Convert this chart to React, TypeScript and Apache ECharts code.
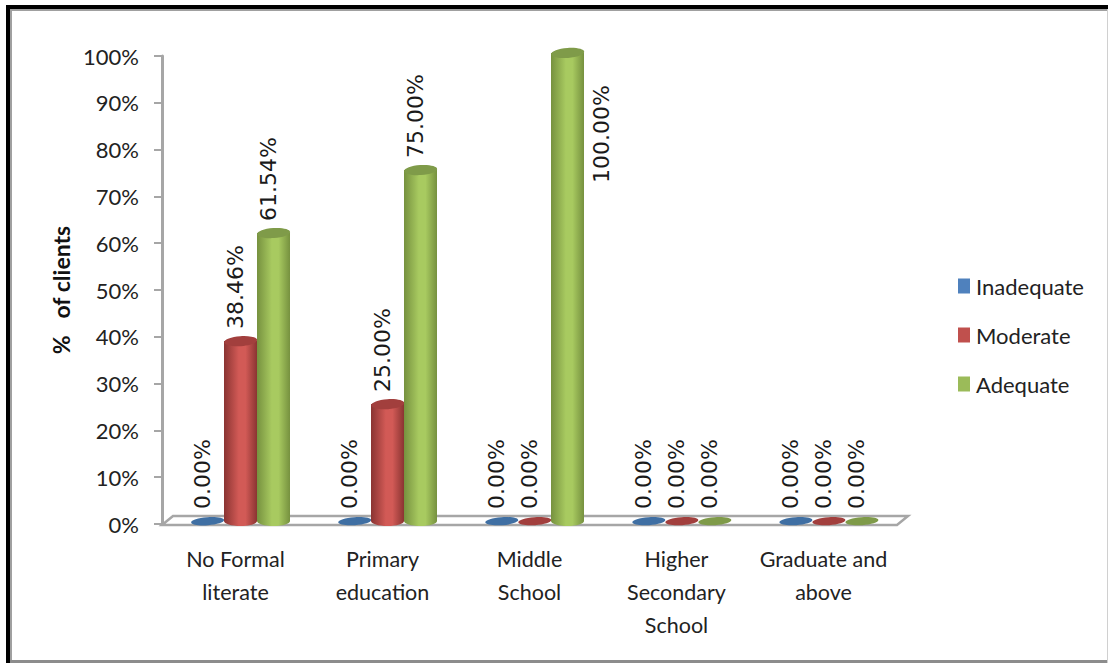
import React, { useEffect, useRef } from "react";
import * as echarts from "echarts";

const categories = [
  "No Formal\nliterate",
  "Primary\neducation",
  "Middle\nSchool",
  "Higher\nSecondary\nSchool",
  "Graduate and\nabove",
];
const inadequate = [0, 0, 0, 0, 0];
const moderate = [38.46, 25, 0, 0, 0];
const adequate = [61.54, 75, 100, 0, 0];

const palettes = [
  { name: "Inadequate", base: "#4f81bd", edge: "#385d8a", mid: "#5b8fd0", cap: "#3f6fa3", values: inadequate },
  { name: "Moderate", base: "#c0504d", edge: "#8a3432", mid: "#d25a56", cap: "#a23f3d", values: moderate },
  { name: "Adequate", base: "#9bbb59", edge: "#76913f", mid: "#a8ca60", cap: "#7f9b49", values: adequate },
];

const BAR_W = 33;
const CAP_H = 10;
const SANS = "Lato, sans-serif";

// One cylinder per datum: body with a rounded foot, tilted cap, rotated value label.
function cylinder(p: (typeof palettes)[number], seriesIndex: number) {
  return (params: any, api: any) => {
    const cat = api.value(0);
    const v = api.value(1);
    const [cx0, yV] = api.coord([cat, v]);
    const [, y0] = api.coord([cat, 0]);
    const cx = cx0 + (seriesIndex - 1) * BAR_W + 5;
    const top = yV - 3;
    const bottom = y0 - 3;
    const children: any[] = [];
    if (v > 0) {
      const fill = {
        type: "linear", x: 0, y: 0, x2: 1, y2: 0,
        colorStops: [
          { offset: 0, color: p.edge },
          { offset: 0.45, color: p.mid },
          { offset: 0.65, color: p.mid },
          { offset: 1, color: p.edge },
        ],
      };
      children.push({
        type: "ellipse",
        shape: { cx, cy: bottom, rx: BAR_W / 2, ry: CAP_H / 2 },
        style: { fill },
      });
      children.push({
        type: "rect",
        shape: { x: cx - BAR_W / 2, y: top, width: BAR_W, height: bottom - top },
        style: { fill },
      });
    }
    children.push({
      type: "ellipse",
      shape: { cx, cy: top, rx: BAR_W / 2, ry: v > 0 ? CAP_H / 2 : 4 },
      originX: cx,
      originY: top,
      rotation: 0.07,
      style: { fill: p.cap },
    });
    // The full-height bar has no headroom, so its label sits beside it.
    const tall = v >= 100;
    children.push({
      type: "text",
      x: tall ? cx + 34 : cx - 5,
      y: tall ? yV + 127 : yV - 15,
      rotation: Math.PI / 2,
      style: {
        text: v.toFixed(2) + "%",
        fontFamily: "'DejaVu Sans', sans-serif",
        fontSize: 22,
        fill: "#1a1a1a",
        align: "left",
        verticalAlign: "middle",
      },
    });
    return { type: "group", children };
  };
}

const GRAY = "#a6a6a6";

export default function App() {
  const ref = useRef<HTMLDivElement>(null);
  useEffect(() => {
    const chart = echarts.init(ref.current!, undefined, { renderer: "svg" });
    chart.setOption({
      animation: false,
      backgroundColor: "#ffffff",
      grid: { left: 162, top: 56, width: 735, height: 468, containLabel: false },
      legend: {
        orient: "vertical",
        left: 953,
        top: 270,
        itemWidth: 12,
        itemHeight: 15,
        itemGap: 27,
        icon: "rect",
        selectedMode: false,
        textStyle: { fontFamily: SANS, fontSize: 22, color: "#222222", padding: [0, 0, 0, 1] },
        data: palettes.map((p) => ({ name: p.name, itemStyle: { color: p.base } })),
      },
      xAxis: {
        type: "category",
        data: categories,
        axisLine: { show: false },
        axisTick: { show: false },
        axisLabel: {
          interval: 0,
          fontFamily: SANS,
          fontSize: 21.5,
          lineHeight: 33,
          color: "#222222",
          margin: 18,
        },
      },
      yAxis: {
        type: "value",
        min: 0,
        max: 100,
        interval: 10,
        name: "%   of clients",
        nameLocation: "middle",
        nameGap: 87,
        nameTextStyle: { fontFamily: SANS, fontSize: 23, fontWeight: "bold", color: "#111111" },
        splitLine: { show: false },
        axisLine: { show: true, lineStyle: { color: GRAY, width: 3 } },
        axisTick: { show: true, length: 8, lineStyle: { color: GRAY, width: 2 } },
        axisLabel: {
          formatter: "{value}%",
          fontFamily: SANS,
          fontSize: 22,
          color: "#222222",
          margin: 23,
        },
      },
      graphic: [
        // page frame
        { type: "rect", z: 0, shape: { x: 6, y: 5, width: 1102, height: 4 }, style: { fill: "#000000" } },
        { type: "rect", z: 0, shape: { x: 6, y: 5, width: 4, height: 658 }, style: { fill: "#000000" } },
        { type: "rect", z: 0, shape: { x: 10, y: 9, width: 1098, height: 2 }, style: { fill: "#a0a0a0" } },
        { type: "rect", z: 0, shape: { x: 10, y: 9, width: 2, height: 654 }, style: { fill: "#a0a0a0" } },
        { type: "rect", z: 0, shape: { x: 10, y: 660, width: 1098, height: 3 }, style: { fill: "#8c8c8c" } },
        { type: "rect", z: 0, shape: { x: 1107, y: 9, width: 1, height: 654 }, style: { fill: "#d0d0d0" } },
        // floor of the plot
        {
          type: "polygon",
          z: 1,
          shape: { points: [[162, 525], [173, 516], [908, 516], [897, 525]] },
          style: { fill: "#ffffff", stroke: GRAY, lineWidth: 2.5 },
        },
      ],
      series: palettes.map((p, i) => ({
        name: p.name,
        type: "custom",
        coordinateSystem: "cartesian2d",
        clip: false,
        z: 3 + i,
        itemStyle: { color: p.base },
        encode: { x: 0, y: 1 },
        data: p.values.map((v, c) => [c, v]),
        renderItem: cylinder(p, i),
      })),
    });
    return () => chart.dispose();
  }, []);
  return <div ref={ref} style={{ position: "fixed", left: 0, top: 0, width: 1108, height: 663 }} />;
}
